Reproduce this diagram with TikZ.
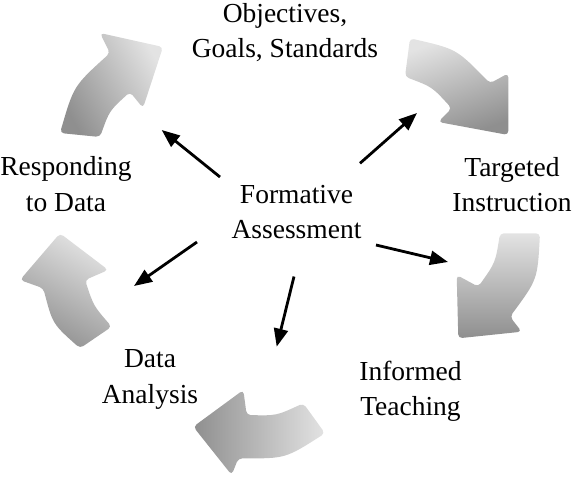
\documentclass[tikz,border=0pt]{standalone}
\usepackage{fontspec}
\setmainfont{Liberation Serif}
\usetikzlibrary{arrows.meta}
\definecolor{cyclight}{gray}{0.89}
\definecolor{cycdark}{gray}{0.56}
\tikzset{
  cyc/.style={rounded corners=4pt, top color=cyclight, bottom color=cycdark, draw=none},
  conn/.style={line width=2.8pt, draw=black, -{Triangle[length=18pt,width=14pt]}},
  lbl/.style={font=\fontsize{27.5}{35.5}\selectfont, align=center, anchor=base, inner sep=0pt},
}
\begin{document}
\begin{tikzpicture}[x=1pt,y=-1pt]
\useasboundingbox (0,0) rectangle (576,480);
% curved cycle arrows
\path[cyc, shading angle=-60] (80,135) -- (100,137) .. controls (109.4,110.8) .. (130,92) -- (143,108) -- (163,47) -- (100,33) -- (110,53) .. controls (73.7,85.9) .. (60,133) -- cycle;
\path[cyc, shading angle=20] (407.5,57.5) -- (410,38.3) .. controls (456.5,48.9) .. (490,83.3) -- (508.3,73.3) -- (508.3,135) -- (438.3,122) -- (451.7,108.3) .. controls (432.1,86.9) .. (405,76.7) -- cycle;
\path[cyc, shading angle=0] (520,233.3) -- (540,233.3) .. controls (537.5,279.5) .. (510,316.7) -- (521.7,331.7) -- (458.3,338.3) -- (456.7,275) -- (478.3,286.7) .. controls (495.4,262.5) .. (500,233.3) -- cycle;
\path[cyc, shading angle=-90] (314.2,418.3) -- (325,433.3) .. controls (285.4,458.6) .. (238.3,458.3) -- (231.7,475) -- (193.3,426.7) -- (243.3,390) -- (246.7,415) .. controls (276.4,415.7) .. (303.3,403.3) -- cycle;
\path[cyc, shading angle=-30] (95.8,337.5) -- (111.7,326.7) .. controls (93.7,306) .. (85,280) -- (108.3,270) -- (60,233.3) -- (20,280) -- (43.3,288.3) .. controls (52.6,323.9) .. (80,348.3) -- cycle;
% labels (anchor = baseline of the last line)
\node[lbl] (obj) at (285,57.5) {Objectives,\\Goals, Standards};
\node[lbl] (resp) at (66,211) {Responding\\to Data};
\node[lbl] (fa) at (296.5,238.5) {Formative\\Assessment};
\node[lbl] (ti) at (512,211.5) {Targeted\\Instruction};
\node[lbl] (da) at (150,403) {Data\\Analysis};
\node[lbl] (it) at (410.5,415.5) {Informed\\Teaching};
% connectors
\coordinate (s1) at (220,177); \coordinate (e1) at (161.7,130);
\coordinate (s2) at (360,163.3); \coordinate (e2) at (417,113);
\coordinate (s3) at (376,245); \coordinate (e3) at (448,262);
\coordinate (s4) at (294,276.5); \coordinate (e4) at (276.7,346.7);
\coordinate (s5) at (197,242); \coordinate (e5) at (134,286);
\draw[conn] (s1) -- (e1);
\draw[conn] (s2) -- (e2);
\draw[conn] (s3) -- (e3);
\draw[conn] (s4) -- (e4);
\draw[conn] (s5) -- (e5);
\end{tikzpicture}
\end{document}
